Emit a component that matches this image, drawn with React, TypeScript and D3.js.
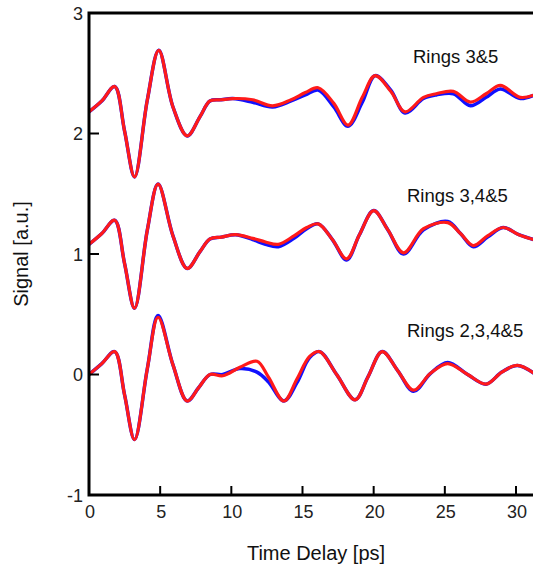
import React from "react";
import * as d3 from "d3";

const width = 533;
const height = 569;

// time delays (ps) and signals
const tTop = [0, 0.9, 1.8, 2.5, 3.2, 4.1, 4.9, 5.9, 6.9, 7.8, 8.5, 9.3, 10.1, 11.5, 12.9, 14.2, 15.2, 16.1, 17.2, 18.2, 19.2, 20.1, 21.2, 22.2, 23.5, 24.4, 25.6, 26.8, 27.9, 28.9, 30.3, 31.5];
const topRed = [2.18, 2.27, 2.39, 2.02, 1.64, 2.28, 2.69, 2.22, 1.98, 2.14, 2.27, 2.28, 2.29, 2.28, 2.23, 2.28, 2.34, 2.38, 2.25, 2.07, 2.3, 2.48, 2.35, 2.18, 2.3, 2.33, 2.35, 2.26, 2.33, 2.4, 2.3, 2.33];
const topBlue = [2.18, 2.27, 2.39, 2.02, 1.64, 2.28, 2.69, 2.22, 1.98, 2.14, 2.27, 2.28, 2.29, 2.26, 2.22, 2.27, 2.32, 2.36, 2.22, 2.06, 2.26, 2.48, 2.36, 2.17, 2.29, 2.32, 2.33, 2.23, 2.3, 2.37, 2.29, 2.33];

const tMid = [0, 0.9, 1.8, 2.5, 3.2, 4.1, 4.85, 5.9, 6.9, 7.8, 8.5, 9.3, 10.3, 11.5, 12.4, 13.3, 14.4, 15.3, 16.1, 17.1, 18.1, 19.0, 20.0, 21.0, 22.1, 23.5, 25.2, 26.1, 27.0, 28.0, 29.1, 30.2, 31.5];
const midRed = [1.08, 1.17, 1.28, 0.92, 0.55, 1.2, 1.58, 1.15, 0.88, 1.02, 1.125, 1.14, 1.16, 1.13, 1.1, 1.08, 1.15, 1.22, 1.25, 1.12, 0.96, 1.16, 1.36, 1.2, 1.01, 1.21, 1.26, 1.17, 1.07, 1.15, 1.22, 1.16, 1.11];
const midBlue = [1.08, 1.17, 1.28, 0.92, 0.55, 1.2, 1.58, 1.15, 0.88, 1.02, 1.125, 1.14, 1.16, 1.12, 1.08, 1.06, 1.13, 1.21, 1.25, 1.12, 0.95, 1.16, 1.36, 1.2, 1.0, 1.2, 1.27, 1.17, 1.06, 1.14, 1.22, 1.16, 1.11];

const tBot = [0, 0.9, 1.8, 2.5, 3.2, 4.1, 4.85, 5.9, 6.9, 7.7, 8.5, 9.4, 10.6, 11.8, 12.6, 13.7, 14.6, 15.5, 16.2, 17.4, 18.7, 19.6, 20.6, 21.7, 22.8, 24.0, 25.2, 26.6, 27.9, 29.0, 30.1, 31.5];
const botRed = [0, 0.09, 0.19, -0.17, -0.54, 0.05, 0.475, 0.08, -0.22, -0.11, 0, -0.01, 0.06, 0.11, -0.02, -0.22, -0.04, 0.15, 0.19, 0, -0.21, -0.02, 0.19, 0.03, -0.13, 0.01, 0.09, 0, -0.08, 0.02, 0.075, -0.01];
const botBlue = [0, 0.09, 0.19, -0.17, -0.54, 0.05, 0.49, 0.08, -0.22, -0.11, 0, 0, 0.05, 0.02, -0.06, -0.22, -0.07, 0.14, 0.19, 0, -0.21, -0.02, 0.19, 0.03, -0.14, 0.01, 0.1, 0, -0.08, 0.02, 0.075, -0.01];

const labels = ["Rings 3&5", "Rings 3,4&5", "Rings 2,3,4&5"];
const labelPos = [[413, 2.585], [407, 1.43], [407, 0.31]];

const xTicks = [0, 5, 10, 15, 20, 25, 30];
const yTicks = [-1, 0, 1, 2, 3];

const font = "Arial, 'Liberation Sans', sans-serif";

export default function App() {
  const x = d3.scaleLinear().domain([0, 30]).range([89, 516]);
  const y = d3.scaleLinear().domain([-1, 3]).range([495, 13]);

  const line = d3
    .line<[number, number]>()
    .x((d) => x(d[0]))
    .y((d) => y(d[1]))
    .curve(d3.curveCatmullRom.alpha(0.5));

  const pairs = (t: number[], v: number[]) => t.map((d, i) => [d, v[i]] as [number, number]);

  const groups = [
    { t: tTop, red: topRed, blue: topBlue },
    { t: tMid, red: midRed, blue: midBlue },
    { t: tBot, red: botRed, blue: botBlue },
  ];

  const x0 = x(0);
  const x1 = x(32);
  const yTop = y(3);
  const yBot = y(-1);

  return (
    <svg
      width={width}
      height={height}
      style={{ position: "absolute", left: 0, top: 0, background: "#fff" }}
    >
      {groups.map((g, i) => (
        <path key={"b" + i} d={line(pairs(g.t, g.blue)) || ""} fill="none" stroke="#1010ff" strokeWidth={3.5} />
      ))}
      {groups.map((g, i) => (
        <path key={"r" + i} d={line(pairs(g.t, g.red)) || ""} fill="none" stroke="#ff1a1a" strokeWidth={3.2} />
      ))}

      {/* frame */}
      <rect x={x0} y={yTop} width={x1 - x0} height={yBot - yTop} fill="none" stroke="#000" strokeWidth={3} />

      {/* ticks */}
      {xTicks.filter((d) => d > 0).map((d) => (
        <line key={"xt" + d} x1={x(d)} x2={x(d)} y1={yBot} y2={yBot - 9} stroke="#000" strokeWidth={2} />
      ))}
      {yTicks.filter((d) => d > -1 && d < 3).map((d) => (
        <line key={"yt" + d} x1={x0} x2={x0 + 10} y1={y(d)} y2={y(d)} stroke="#000" strokeWidth={2} />
      ))}

      {xTicks.map((d) => (
        <text key={"xl" + d} x={x(d) + 1} y={yBot + 23} textAnchor="middle" fontFamily={font} fontSize={18} fill="#222">
          {d}
        </text>
      ))}
      {yTicks.map((d) => (
        <text key={"yl" + d} x={x0 - 6} y={y(d) + 6.5} textAnchor="end" fontFamily={font} fontSize={18} fill="#222">
          {d}
        </text>
      ))}

      {labels.map((s, i) => (
        <text key={s} x={labelPos[i][0]} y={y(labelPos[i][1])} fontFamily={font} fontSize={18.5} fill="#111">
          {s}
        </text>
      ))}

      <text x={316} y={560} textAnchor="middle" fontFamily={font} fontSize={20} fill="#111">
        Time Delay [ps]
      </text>
      <text transform={`translate(28, 254) rotate(-90)`} textAnchor="middle" fontFamily={font} fontSize={20} fill="#111">
        Signal [a.u.]
      </text>
    </svg>
  );
}
